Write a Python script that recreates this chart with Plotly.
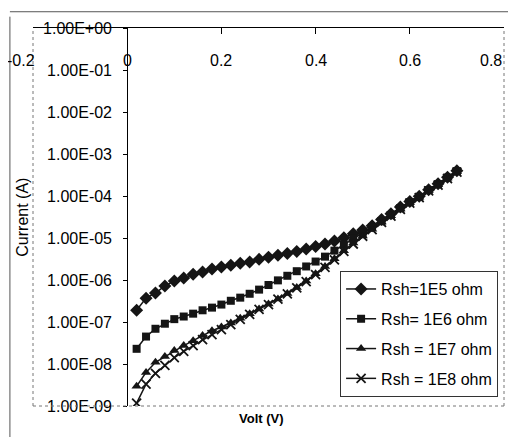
import plotly.graph_objects as go

volt = [0.02, 0.04, 0.06, 0.08, 0.10, 0.12, 0.14, 0.16, 0.18, 0.20,
        0.22, 0.24, 0.26, 0.28, 0.30, 0.32, 0.34, 0.36, 0.38, 0.40,
        0.42, 0.44, 0.46, 0.48, 0.50, 0.52, 0.54, 0.56, 0.58, 0.60,
        0.62, 0.64, 0.66, 0.68, 0.70]

i_1e5 = [1.9e-7, 3.7e-7, 4.9e-7, 7.2e-7, 9.5e-7, 1.12e-6, 1.38e-6, 1.55e-6, 1.82e-6, 2.04e-6,
         2.24e-6, 2.5e-6, 2.7e-6, 3.1e-6, 3.5e-6, 3.9e-6, 4.3e-6, 4.8e-6, 5.5e-6, 6.3e-6,
         7.2e-6, 8.5e-6, 1.02e-5, 1.26e-5, 1.55e-5, 1.95e-5, 2.75e-5, 3.8e-5, 5.5e-5, 7.4e-5,
         9.8e-5, 1.41e-4, 1.95e-4, 2.8e-4, 4.0e-4]

i_1e6 = [2.3e-8, 4.5e-8, 6.9e-8, 9.1e-8, 1.17e-7, 1.35e-7, 1.58e-7, 1.9e-7, 2.2e-7, 2.6e-7,
         3.2e-7, 3.8e-7, 4.7e-7, 5.9e-7, 7.6e-7, 9.8e-7, 1.26e-6, 1.62e-6, 2.1e-6, 2.75e-6,
         3.6e-6, 5.0e-6, 6.9e-6, 9.5e-6, 1.32e-5, 1.82e-5, 2.5e-5, 3.5e-5, 5.1e-5, 7.1e-5,
         9.5e-5, 1.38e-4, 1.9e-4, 2.75e-4, 3.9e-4]

i_1e7 = [2.95e-9, 6.3e-9, 1.1e-8, 1.5e-8, 2.1e-8, 2.75e-8, 3.6e-8, 4.8e-8, 6.2e-8, 7.6e-8,
         9.5e-8, 1.23e-7, 1.58e-7, 2.05e-7, 2.7e-7, 3.55e-7, 4.8e-7, 6.6e-7, 9.5e-7, 1.41e-6,
         2.1e-6, 3.2e-6, 5.0e-6, 7.6e-6, 1.12e-5, 1.62e-5, 2.4e-5, 3.4e-5, 4.9e-5, 6.9e-5,
         9.3e-5, 1.35e-4, 1.86e-4, 2.7e-4, 3.8e-4]

i_1e8 = [1.17e-9, 3.3e-9, 6.0e-9, 9.3e-9, 1.41e-8, 2.0e-8, 2.75e-8, 3.8e-8, 5.0e-8, 6.6e-8,
         8.7e-8, 1.15e-7, 1.51e-7, 2.0e-7, 2.6e-7, 3.5e-7, 4.7e-7, 6.5e-7, 9.2e-7, 1.35e-6,
         2.0e-6, 3.0e-6, 4.8e-6, 7.2e-6, 1.1e-5, 1.58e-5, 2.35e-5, 3.3e-5, 4.8e-5, 6.8e-5,
         9.1e-5, 1.32e-4, 1.82e-4, 2.6e-4, 3.7e-4]

series_names = ["Rsh=1E5 ohm", "Rsh= 1E6 ohm", "Rsh = 1E7 ohm", "Rsh = 1E8 ohm"]
series_data = [i_1e5, i_1e6, i_1e7, i_1e8]
series_symbols = ["diamond", "square", "triangle-up", "x-thin"]
series_sizes = [10, 8, 9, 9]

x_ticks = [-0.2, 0, 0.2, 0.4, 0.6, 0.8]
x_tick_labels = ["-0.2", "0", "0.2", "0.4", "0.6", "0.8"]
y_ticks = [1e0, 1e-1, 1e-2, 1e-3, 1e-4, 1e-5, 1e-6, 1e-7, 1e-8, 1e-9]
y_tick_labels = [f"{v:.2E}" for v in y_ticks]

FONT = "Liberation Sans"
INK = "#151515"

fig = go.Figure()
for name, ys, sym, sz in zip(series_names, series_data, series_symbols, series_sizes):
    marker = dict(symbol=sym, size=sz, color=INK)
    if sym == "x-thin":
        marker["line"] = dict(width=1.8, color=INK)
    fig.add_trace(go.Scatter(
        x=volt, y=ys, mode="lines+markers", name=name, legendgroup=name,
        line=dict(color=INK, width=1.5), marker=marker))

# The page adds an 8px body margin, so the figure is 8px smaller than the window.
fig.update_layout(
    width=508, height=429,
    margin=dict(l=25, r=12, t=17, b=31),
    paper_bgcolor="white", plot_bgcolor="white",
    font=dict(family=FONT, color="black"),
    showlegend=True,
    legend=dict(x=0.652, y=0.357, xanchor="left", yanchor="top",
                bgcolor="white", bordercolor="#333333", borderwidth=1,
                font=dict(size=16, family=FONT, color="black"),
                tracegroupgap=6, itemwidth=30),
    xaxis=dict(range=[-0.2, 0.8], side="top", showline=True, linecolor="black",
               linewidth=1, ticks="inside", ticklen=6, tickcolor="black",
               tickvals=x_ticks, showticklabels=False, showgrid=False,
               zeroline=False),
    yaxis=dict(type="log", range=[-9, 0], anchor="free", position=0.2,
               showline=True, linecolor="black", linewidth=1,
               ticks="outside", ticklen=4, tickcolor="black",
               tickvals=y_ticks, ticktext=y_tick_labels,
               tickfont=dict(size=16, family=FONT, color="black"),
               ticklabelstandoff=8, showgrid=False, zeroline=False),
)

# dotted plot-area border (left, bottom, right)
for x0, y0, x1, y1 in [(0, 0, 0, 1), (0, 0, 1, 0), (1, 0, 1, 1)]:
    fig.add_shape(type="line", xref="paper", yref="paper", x0=x0, y0=y0, x1=x1, y1=y1,
                  line=dict(color="#777777", width=1, dash="dot"))

# outer page border fragments
fig.add_shape(type="line", xref="paper", yref="paper", x0=-0.049, y0=1.043, x1=1.03, y1=1.043,
              line=dict(color="#555555", width=1))
fig.add_shape(type="line", xref="paper", yref="paper", x0=-0.049, y0=1.03, x1=-0.049, y1=-0.09,
              line=dict(color="#555555", width=1))

# x tick labels, drawn inside the plot area on the 1E-01 row as in the original
for i, (v, t) in enumerate(zip(x_ticks, x_tick_labels)):
    anchor = "right" if i in (0, len(x_ticks) - 1) else "center"
    shift = 4 if i == 0 else 0
    fig.add_annotation(x=v, y=0.915, xref="x", yref="paper", text=t, showarrow=False,
                       xanchor=anchor, yanchor="middle", xshift=shift,
                       font=dict(size=16, family=FONT, color="black"))

fig.add_annotation(x=-0.024, y=0.50, xref="paper", yref="paper", text="Current (A)",
                   textangle=-90, showarrow=False, xanchor="center", yanchor="middle",
                   font=dict(size=16, family=FONT, color="black"))
fig.add_annotation(x=0.486, y=-0.032, xref="paper", yref="paper", text="<b>Volt (V)</b>",
                   showarrow=False, xanchor="center", yanchor="middle",
                   font=dict(size=13, family=FONT, color="black"))

fig.write_html("out.html")
